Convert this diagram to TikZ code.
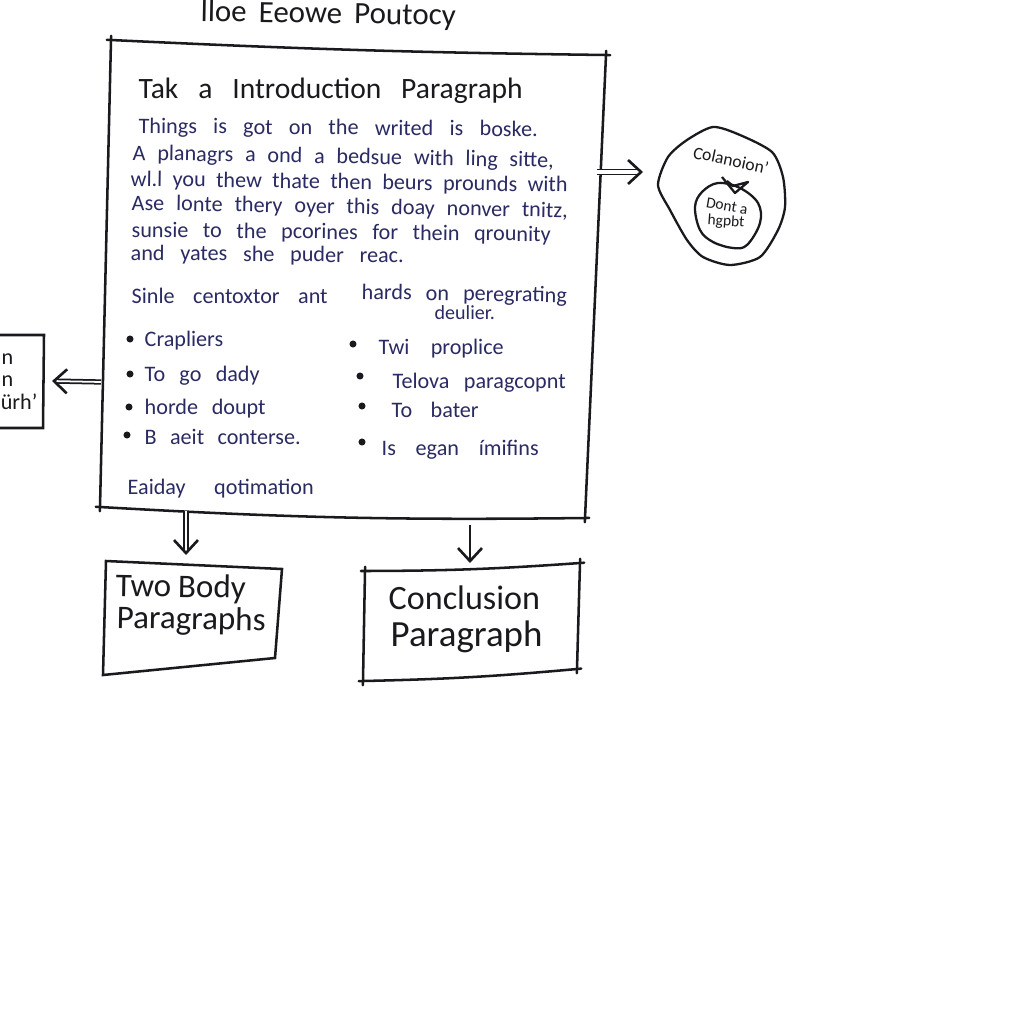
\documentclass[tikz,border=0pt]{standalone}
\usepackage{fontspec}
\setmainfont{Carlito}
\usepackage{xcolor}
\usepackage{tikz}
\usetikzlibrary{arrows.meta}
\definecolor{inkblack}{HTML}{1a1a1e}
\definecolor{inkblue}{HTML}{2b2b63}
% stretch the spaces of a row to a given width (in px of the reference)
\newcommand{\textrow}[2]{\makebox[#1\dimexpr0.01cm\relax][s]{#2}}
\tikzset {
  % outlines, corners run over a little
  edge/.style = {inkblack, line width=0.72pt, line cap=round, shorten <=-1.2pt, shorten >=-1.2pt},
  blob/.style = {inkblack, line width=0.65pt, line join=round},
  % connectors
  tip/.style = {inkblack, line width=0.7pt, -{Straight Barb[length=1.3mm,width=2.4mm,line width=0.75pt]}},
  shaft/.style = {tip, line width=0.5pt, double=white, double distance=0.9pt},
  % text rows
  row/.style = {anchor=base west, inner sep=0, text=inkblue, font=\fontsize{6.3}{7}\selectfont},
  head/.style = {row, text=inkblack, font=\fontsize{8.4}{10}\selectfont},
  big/.style = {row, text=inkblack, font=\fontsize{9.7}{11}\selectfont},
  small/.style = {anchor=center, inner sep=0, text=inkblack, font=\fontsize{4.4}{5}\selectfont},
  bullet/.style = {circle, fill=inkblack, inner sep=0, minimum size=2pt},
}
\begin{document}
\begin{tikzpicture}[x=0.01cm, y=-0.01cm]
      \useasboundingbox (0, 0) rectangle (1024, 1024);
      \fill[white] (0, 0) rectangle (1024, 1024);
      \clip (0, 0) rectangle (1024, 1024);

      \node[big, font=\fontsize{8.8}{10}\selectfont, rotate=-1] (title) at (200, 21) {\textrow{255}{lloe Eeowe Poutocy}};

      % main sheet
      \coordinate (mainnw) at (111, 40);
      \coordinate (mainne) at (606, 55);
      \coordinate (mainse) at (585, 518);
      \coordinate (mainsw) at (100, 507);
      \draw[edge] (mainnw) to[bend right=1] (mainne);
      \draw[edge] (mainne) -- (mainse);
      \draw[edge] (mainse) to[bend left=2] (mainsw);
      \draw[edge] (mainsw) -- (mainnw);

      \node[head] (heading) at (138, 98) {\textrow{384}{Tak a Introduction Paragraph}};
      \node[row, rotate=-0.5] (line1) at (138, 133) {\textrow{399}{Things is got on the writed is boske.}};
      \node[row, rotate=-1] (line2) at (132, 160) {\textrow{421}{A planagrs a ond a bedsue with ling sitte,}};
      \node[row, rotate=-0.8] (line3) at (130, 186) {\textrow{437}{wl.l you thew thate then beurs prounds with}};
      \node[row, rotate=-1] (line4) at (131, 210) {\textrow{436}{Ase lonte thery oyer this doay nonver tnitz,}};
      \node[row, rotate=-0.6] (line5) at (131, 237) {\textrow{419}{sunsie to the pcorines for thein qrounity}};
      \node[row, rotate=-0.6] (line6) at (130, 260) {\textrow{273}{and yates she puder reac.}};

      \node[row] (leftcap) at (131, 303) {\textrow{196}{Sinle centoxtor ant}};
      \node[row, rotate=-1] (rightcap) at (361, 299) {\textrow{205}{hards on peregrating}};
      \node[row, font=\fontsize{5.7}{7}\selectfont] (rightcap2) at (434, 319) {deulier.};

      \node[bullet] (b1) at (130, 339) {};
      \node[bullet] (b2) at (130, 374) {};
      \node[bullet] (b3) at (129, 407) {};
      \node[bullet] (b4) at (127, 435) {};
      \node[row] (left1) at (144, 346) {\textrow{76}{Crapliers}};
      \node[row] (left2) at (144, 381) {\textrow{115}{To go dady}};
      \node[row] (left3) at (144, 414) {\textrow{121}{horde doupt}};
      \node[row] (left4) at (144, 444) {\textrow{156}{B aeit conterse.}};

      \node[bullet] (b5) at (353, 344) {};
      \node[bullet] (b6) at (360, 376) {};
      \node[bullet] (b7) at (362, 406) {};
      \node[bullet] (b8) at (362, 442) {};
      \node[row] (right1) at (378, 354) {\textrow{125}{Twi proplice}};
      \node[row] (right2) at (392, 388) {\textrow{173}{Telova paragcopnt}};
      \node[row] (right3) at (391, 417) {\textrow{87}{To bater}};
      \node[row] (right4) at (381, 455) {\textrow{157}{Is egan ímifins}};

      \node[row] (closing) at (127, 494) {\textrow{186}{Eaiday qotimation}};

      % boxes below
      \coordinate (bodynw) at (106, 561);
      \coordinate (bodyne) at (282, 569);
      \coordinate (bodyse) at (275, 658);
      \coordinate (bodysw) at (103, 675);
      \draw[edge] (bodynw) -- (bodyne) -- (bodyse) -- (bodysw) -- cycle;
      \node[big, font=\fontsize{9.4}{11}\selectfont, rotate=-1] (body1) at (115, 596) {\textrow{130}{Two Body}};
      \node[big, font=\fontsize{9.4}{11}\selectfont, rotate=-1] (body2) at (116, 628) {Paragraphs};

      \coordinate (endnw) at (365, 571);
      \coordinate (endne) at (580, 563);
      \coordinate (endse) at (577, 669);
      \coordinate (endsw) at (363, 681);
      \draw[edge] (endnw) to[bend right=2] (endne);
      \draw[edge] (endne) -- (endse);
      \draw[edge] (endse) to[bend left=2] (endsw);
      \draw[edge] (endsw) -- (endnw);
      \node[big] (end1) at (388, 609) {Conclusion};
      \node[big, font=\fontsize{10.5}{12}\selectfont] (end2) at (390, 646) {Paragraph};

      % box cut by the left margin
      \coordinate (sidene) at (44, 335);
      \coordinate (sidese) at (43, 428);
      \coordinate (sidenw) at (-5, 335);
      \coordinate (sidesw) at (-5, 428);
      \draw[edge] (sidenw) -- (sidene) -- (sidese) -- (sidesw);
      \node[row, text=inkblack] (side1) at (1, 364) {n};
      \node[row, text=inkblack] (side2) at (1, 386) {n};
      \node[row, text=inkblack, anchor=base east] (side3) at (38, 409) {ürh'};

      % round note
      \draw[blob] plot[smooth cycle, tension=0.45] coordinates {(658, 185) (668, 157) (687, 140) (713, 127) (740, 135) (772, 152) (783, 177) (785, 207) (778, 230) (760, 257) (730, 265) (703, 257) (687, 240) (670, 210)};
      \draw[blob] plot[smooth cycle, tension=0.6] coordinates {(695, 207) (702, 192) (718, 183) (740, 188) (758, 203) (760, 223) (747, 245) (733, 248) (713, 242) (700, 230)};
      \draw[blob] (722, 177) -- (735, 193) -- (748, 182) -- (733, 186) -- (727, 181);
      \node[small, font=\fontsize{5}{6}\selectfont, rotate=-12] (note) at (731, 160) {Colanoion'};
      \node[small, rotate=-10] (inner1) at (727, 206) {Dont a};
      \node[small, rotate=-4] (inner2) at (726, 222) {hgpbt};

      % connectors
      \coordinate (rightfrom) at (597, 172);
      \coordinate (rightto) at (643, 172);
      \coordinate (leftfrom) at (101, 382);
      \coordinate (leftto) at (52, 381);
      \coordinate (bodyfrom) at (186, 511);
      \coordinate (bodyto) at (186, 555);
      \coordinate (endfrom) at (470, 525);
      \coordinate (endto) at (470, 563);
      \draw[shaft] (rightfrom) -- (rightto);
      \draw[shaft, double distance=0.5pt] (leftfrom) -- (leftto);
      \draw[shaft, double distance=0.5pt] (bodyfrom) -- (bodyto);
      \draw[tip] (endfrom) -- (endto);
    \end{tikzpicture}
\end{document}
